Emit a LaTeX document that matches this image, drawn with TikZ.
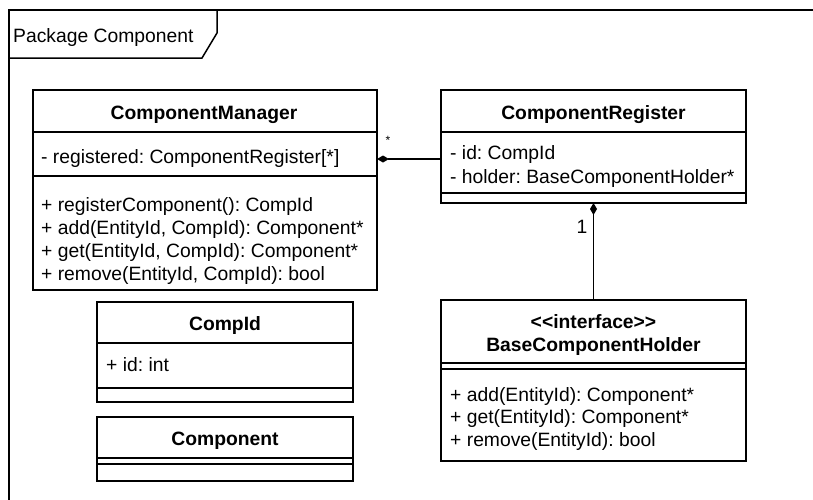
\documentclass[tikz,border=0pt]{standalone}
\usepackage{fontspec}
\setmainfont{Liberation Sans}
\usetikzlibrary{arrows.meta}
\frenchspacing
\begin{document}
\begin{tikzpicture}[x=1pt,y=-1pt,
  ln/.style={line width=1.5pt, line cap=rect},
  umlbox/.style={draw, line width=1.5pt, fill=white, inner sep=0pt, outer sep=0pt, anchor=north west},
  txt/.style={anchor=base west, inner sep=0pt, font=\fontsize{19.3}{23}\selectfont},
  ttl/.style={anchor=base, inner sep=0pt, font=\fontsize{19.3}{23}\selectfont\bfseries},
  mult/.style={anchor=base, inner sep=0pt, font=\fontsize{19.3}{23}\selectfont},
  comp/.style={line width=1.5pt, {Diamond[length=12pt,width=7pt]}-},
]
\useasboundingbox (0,0) rectangle (813,499);
% package frame
\draw[ln] (813,10) -- (9,10) -- (9,499);
\draw[ln] (9,58) -- (202,58) -- (217,33) -- (217,10);
\node[txt] (pkg) at (13,42) {Package Component};

% ComponentManager
\node[umlbox, minimum width=344pt, minimum height=200pt] (cm) at (33,90) {};
\draw[ln] (cm.west |- 0,132) -- (cm.east |- 0,132);
\draw[ln] (cm.west |- 0,176) -- (cm.east |- 0,176);
\node[ttl] (cmt) at (204,119) {ComponentManager};
\node[txt] (cma) at (41,163) {- registered: ComponentRegister[*]};
\node[txt] (cm1) at (41,211) {+ registerComponent(): CompId};
\node[txt] (cm2) at (41,234) {+ add(EntityId, CompId): Component*};
\node[txt] (cm3) at (41,257) {+ get(EntityId, CompId): Component*};
\node[txt] (cm4) at (41,280) {+ remove(EntityId, CompId): bool};

% ComponentRegister
\node[umlbox, minimum width=305pt, minimum height=113pt] (cr) at (441,90) {};
\draw[ln] (cr.west |- 0,132) -- (cr.east |- 0,132);
\draw[ln] (cr.west |- 0,193) -- (cr.east |- 0,193);
\node[ttl] (crt) at (593.5,119) {ComponentRegister};
\node[txt] (cra) at (450,159) {- id: CompId};
\node[txt] (crb) at (450,183) {- holder: BaseComponentHolder*};

% CompId
\node[umlbox, minimum width=256pt, minimum height=100pt] (ci) at (97,302) {};
\draw[ln] (ci.west |- 0,343) -- (ci.east |- 0,343);
\draw[ln] (ci.west |- 0,388) -- (ci.east |- 0,388);
\node[ttl] (cit) at (225,330) {CompId};
\node[txt] (cia) at (106,371) {+ id: int};

% Component
\node[umlbox, minimum width=256pt, minimum height=64pt] (co) at (97,417) {};
\draw[ln] (co.west |- 0,458) -- (co.east |- 0,458);
\draw[ln] (co.west |- 0,464) -- (co.east |- 0,464);
\node[ttl] (cot) at (225,445) {Component};

% BaseComponentHolder
\node[umlbox, minimum width=305pt, minimum height=161pt] (bh) at (441,300) {};
\draw[ln] (bh.west |- 0,363) -- (bh.east |- 0,363);
\draw[ln] (bh.west |- 0,369) -- (bh.east |- 0,369);
\node[ttl] (bht1) at (593.5,328) {<{}<interface>{}>};
\node[ttl] (bht2) at (593.5,351) {BaseComponentHolder};
\node[txt] (bh1) at (450,401) {+ add(EntityId): Component*};
\node[txt] (bh2) at (450,423.5) {+ get(EntityId): Component*};
\node[txt] (bh3) at (450,446) {+ remove(EntityId): bool};

% connectors
\coordinate (ya) at (0,159);
\draw[comp] (cm.east |- ya) -- (cr.west |- ya);
\node[anchor=base, inner sep=0pt, font=\fontsize{12}{14}\selectfont] (m1) at (388,144) {*};
\draw[comp] (cr.south) -- (bh.north);
\node[mult] (m2) at (582,233) {1};
\end{tikzpicture}
\end{document}
